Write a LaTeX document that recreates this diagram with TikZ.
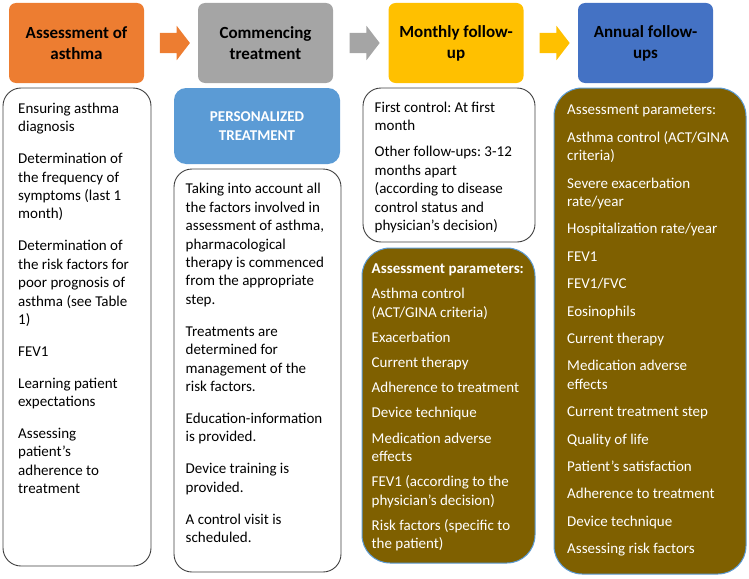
\documentclass[tikz,border=0pt]{standalone}
\usepackage{fontspec}
\setmainfont{Carlito}
\usepackage{xcolor}
\usetikzlibrary{shapes.arrows, calc}
\frenchspacing

\definecolor{hdrorange}{HTML}{ED7D31}
\definecolor{hdrgray}{HTML}{A5A5A5}
\definecolor{hdryellow}{HTML}{FFC000}
\definecolor{hdrblue}{HTML}{4472C4}
\definecolor{perblue}{HTML}{5B9BD5}
\definecolor{parbrown}{HTML}{7F6000}
\definecolor{edgeblue}{HTML}{5B9BD5}

\begin{document}
\begin{tikzpicture}[x=1pt, y=-1pt,
    header/.style={rounded corners=7pt, minimum width=135pt, minimum height=80pt, inner sep=0pt, align=center, font=\fontsize{17}{21}\selectfont\bfseries},
    flowarrow/.style={single arrow, single arrow head extend=7pt, single arrow tip angle=105, minimum height=30pt, text height=20pt, text depth=0pt, inner sep=0pt},
    list/.style={anchor=base west, inner sep=0pt, align=left, font=\fontsize{15}{18.4}\selectfont},
    whitebox/.style={draw=black!75, line width=0.9pt, fill=white, rounded corners=18pt},
    brownbox/.style={draw=edgeblue, line width=1pt, fill=parbrown, rounded corners=28pt}]
    \useasboundingbox (0,0) rectangle (749,578);

    % header row
    \node[header, fill=hdrorange] (assess) at (76.5,43) {Assessment of\\asthma};
    \node[header, fill=hdrgray] (commence) at (265.5,43) {Commencing\\treatment};
    \node[header, fill=hdryellow] (monthly) at (456,43) {Monthly follow-\\up};
    \node[header, fill=hdrblue] (annual) at (645.5,43) {Annual follow-\\ups};

    \node[flowarrow, fill=hdrorange] (arrA) at ($(assess.east)!0.5!(commence.west)$) {};
    \node[flowarrow, fill=hdrgray] (arrB) at ($(commence.east)!0.5!(monthly.west)$) {};
    \node[flowarrow, fill=hdryellow] (arrC) at ($(monthly.east)!0.5!(annual.west)$) {};

    % assessment column (placed by the baseline of its last line)
    \draw[whitebox] (3,88) rectangle (151,566);
    \node[list] (assesslist) at (18,493.7) {Ensuring asthma\\diagnosis\\[13.5pt]
        Determination of\\the frequency of\\symptoms (last 1\\month)\\[13.5pt]
        Determination of\\the risk factors for\\poor prognosis of\\asthma (see Table\\1)\\[13.5pt]
        FEV1\\[13.5pt]
        Learning patient\\expectations\\[13.5pt]
        Assessing\\patient’s\\adherence to\\treatment};

    % treatment column
    \node[fill=perblue, rounded corners=12pt, minimum width=166pt, minimum height=76pt, inner sep=0pt, align=center, text=white, font=\fontsize{15}{18.4}\selectfont\bfseries] (personal) at (257,126) {PERSONALIZED\\TREATMENT};
    \draw[whitebox] (174,169) rectangle (341,572);
    \node[list] (treatlist) at (185.5,542.7) {Taking into account all\\the factors involved in\\assessment of asthma,\\pharmacological\\therapy is commenced\\from the appropriate\\step.\\[13.6pt]
        Treatments are\\determined for\\management of the\\risk factors.\\[13.6pt]
        Education-information\\is provided.\\[13.6pt]
        Device training is\\provided.\\[13.6pt]
        A control visit is\\scheduled.};

    % monthly column
    \draw[whitebox] (363,88) rectangle (535,242);
    \node[list] (visitlist) at (374.5,230.4) {First control: At first\\month\\[8pt]
        Other follow-ups: 3-12\\months apart\\(according to disease\\control status and\\physician’s decision)};
    \draw[brownbox] (362,248) rectangle (535,563);
    \node[list, text=white] (monthparams) at (371.5,548.7) {\textbf{Assessment parameters:}\\[6.8pt]
        Asthma control\\(ACT/GINA criteria)\\[6.8pt]
        Exacerbation\\[6.8pt]
        Current therapy\\[6.8pt]
        Adherence to treatment\\[6.8pt]
        Device technique\\[6.8pt]
        Medication adverse\\effects\\[6.8pt]
        FEV1 (according to the\\physician’s decision)\\[6.8pt]
        Risk factors (specific to\\the patient)};

    % annual column
    \draw[brownbox] (554,88) rectangle (746,574);
    \node[list, text=white] (yearparams) at (567,553.7) {Assessment parameters:\\[9pt]
        Asthma control (ACT/GINA\\criteria)\\[9pt]
        Severe exacerbation\\rate/year\\[9pt]
        Hospitalization rate/year\\[9pt]
        FEV1\\[9pt]
        FEV1/FVC\\[9pt]
        Eosinophils\\[9pt]
        Current therapy\\[9pt]
        Medication adverse\\effects\\[9pt]
        Current treatment step\\[9pt]
        Quality of life\\[9pt]
        Patient’s satisfaction\\[9pt]
        Adherence to treatment\\[9pt]
        Device technique\\[9pt]
        Assessing risk factors};
\end{tikzpicture}
\end{document}
